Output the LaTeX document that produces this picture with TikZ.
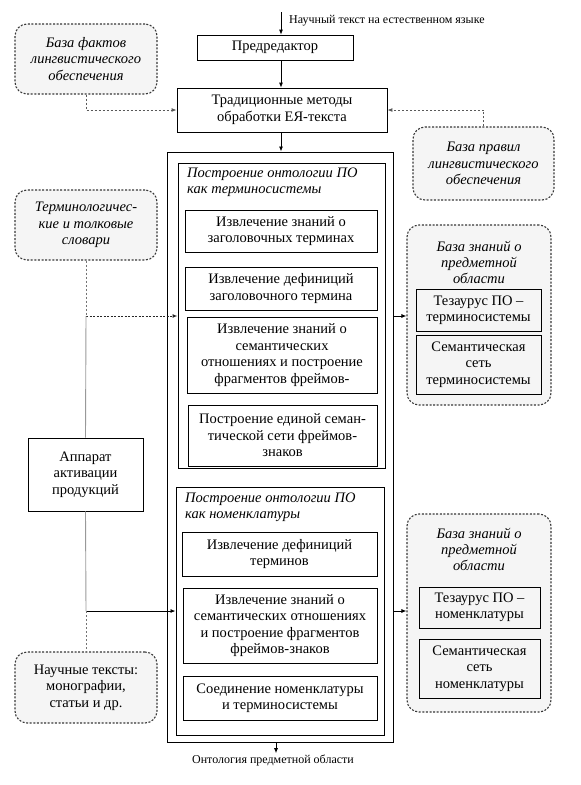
\documentclass[tikz,border=0pt]{standalone}
\usepackage{fontspec}
\setmainfont{Liberation Serif}
\usetikzlibrary{arrows.meta}
\begin{document}
\begin{tikzpicture}[x=1pt,y=-1pt,
  box/.style={draw=black, line width=0.8pt, inner sep=2pt, align=center,
    font=\fontsize{14.5}{16.5}\selectfont},
  frame/.style={draw=black, line width=1pt, inner sep=0pt},
  kbase/.style={draw=black!78, line width=1.1pt, dash pattern=on 2pt off 1.6pt,
    rounded corners=12pt, fill=black!4, inner sep=2pt, align=center,
    font=\fontsize{14.5}{16.5}\selectfont},
  ititle/.style={font=\fontsize{14.5}{16}\selectfont\itshape, align=left, inner sep=0pt},
  ktitle/.style={font=\fontsize{14.5}{16}\selectfont\itshape, align=center, inner sep=0pt},
  small/.style={font=\fontsize{12}{13}\selectfont, inner sep=1pt},
  tip/.style={-{Latex[length=5pt,width=4pt]}},
  arr/.style={tip, draw=black, line width=0.8pt},
  dasharr/.style={tip, draw=black!65, line width=0.9pt, dash pattern=on 2pt off 2pt},
  darkdash/.style={tip, draw=black!85, line width=1pt, dash pattern=on 2pt off 1.5pt},
  graysolid/.style={draw=black!40, line width=0.9pt},
  graydash/.style={draw=black!55, line width=0.9pt, dash pattern=on 2pt off 2pt}
]
\useasboundingbox (0,0) rectangle (581,785);

% top chain
\node[box, minimum width=156, minimum height=25] (pre) at (275,47.5) {Предредактор};
\node[box, minimum width=210, minimum height=44] (trad) at (282,110) {Традиционные методы\\обработки ЕЯ-текста};
\node[small, anchor=west] (lab1) at (288,21) {Научный текст на естественном языке};

% outer and inner frames
\node[frame, minimum width=226, minimum height=590] (outer) at (280,447) {};
\node[frame, minimum width=207, minimum height=305] (in1) at (281.5,315.5) {};
\node[frame, minimum width=208, minimum height=248] (in2) at (280,611) {};

% section 1
\node[ititle, anchor=north west] (t1) at (187,168) {Построение онтологии ПО\\как терминосистемы};
\node[box, minimum width=192, minimum height=42] (s1) at (281,231) {Извлечение знаний о\\заголовочных терминах};
\node[box, minimum width=192, minimum height=43] (s2) at (281,288.5) {Извлечение дефиниций\\заголовочного термина};
\node[box, minimum width=190, minimum height=76] (s3) at (282,355) {Извлечение знаний о\\семантических\\отношениях и построение\\фрагментов фреймов-};
\node[box, minimum width=189, minimum height=61] (s4) at (282.5,435.5) {Построение единой семан-\\тической сети фреймов-\\знаков};

% section 2
\node[ititle, anchor=north west] (t2) at (185,493) {Построение онтологии ПО\\как номенклатуры};
\node[box, minimum width=195, minimum height=44] (n1) at (279.5,554) {Извлечение дефиниций\\терминов};
\node[box, minimum width=194, minimum height=75] (n2) at (280,625.5) {Извлечение знаний о\\семантических отношениях\\и построение фрагментов\\фреймов-знаков};
\node[box, minimum width=194, minimum height=44] (n3) at (280,698) {Соединение номенклатуры\\и терминосистемы};

% left column
\node[kbase, minimum width=142, minimum height=70, font=\fontsize{14.5}{16.5}\selectfont\itshape] (bf) at (86,59) {База фактов\\лингвистического\\обеспечения};
\node[kbase, minimum width=142, minimum height=70, font=\fontsize{14.5}{16.5}\selectfont\itshape] (tl) at (86,225) {Терминологичес-\\кие и толковые\\словари};
\node[box, minimum width=115, minimum height=73] (app) at (85.5,474.5) {Аппарат\\активации\\продукций};
\node[kbase, minimum width=142, minimum height=71] (nt) at (86,687.5) {Научные тексты:\\монографии,\\статьи и др.};

% right column
\node[kbase, minimum width=141, minimum height=73, font=\fontsize{14.5}{16.5}\selectfont\itshape] (bp) at (483.5,163.5) {База правил\\лингвистического\\обеспечения};
\node[kbase, minimum width=144, minimum height=180] (kb1) at (479,315) {};
\node[ktitle] (k1t) at (479,262) {База знаний о\\предметной\\области};
\node[box, minimum width=125, minimum height=42] (th1) at (478.5,310) {Тезаурус ПО –\\терминосистемы};
\node[box, minimum width=125, minimum height=59] (sn1) at (478.5,364.5) {Семантическая\\сеть\\терминосистемы};
\node[kbase, minimum width=144, minimum height=198] (kb2) at (479,613) {};
\node[ktitle] (k2t) at (479,549) {База знаний о\\предметной\\области};
\node[box, minimum width=121, minimum height=41] (th2) at (479.5,607.5) {Тезаурус ПО –\\номенклатуры};
\node[box, minimum width=121, minimum height=59] (sn2) at (479.5,668.5) {Семантическая\\сеть\\номенклатуры};

% bottom label
\node[small] (lab2) at (273,760) {Онтология предметной области};

% connectors
\coordinate (cx) at (281,0);
\coordinate (cin) at (281,12);
\coordinate (cb) at (276,0);
\coordinate (j1) at (86,316);
\coordinate (j2) at (86,611);
\draw[arr] (cin) -- (pre.north -| cin);
\draw[arr] (pre.south -| cx) -- (trad.north -| cx);
\draw[arr] (trad.south -| cx) -- (outer.north -| cx);
\draw[dasharr] (bf.south) |- (trad.west);
\draw[dasharr] (bp.north) |- (trad.east);
\draw[graydash] (tl.south) -- (j1);
\draw[darkdash] (j1) -- (j1 -| in1.west);
\draw[graysolid] (j1) -- (app.north);
\draw[graysolid] (app.south) -- (j2);
\draw[arr] (j2) -- (j2 -| in2.west);
\draw[graydash] (j2) -- (nt.north);
\draw[arr] (outer.east |- j1) -- (kb1.west |- j1);
\draw[arr] (outer.east |- j2) -- (kb2.west |- j2);
\draw[arr] (outer.south -| cb) -- (lab2.north -| cb);
\end{tikzpicture}
\end{document}
